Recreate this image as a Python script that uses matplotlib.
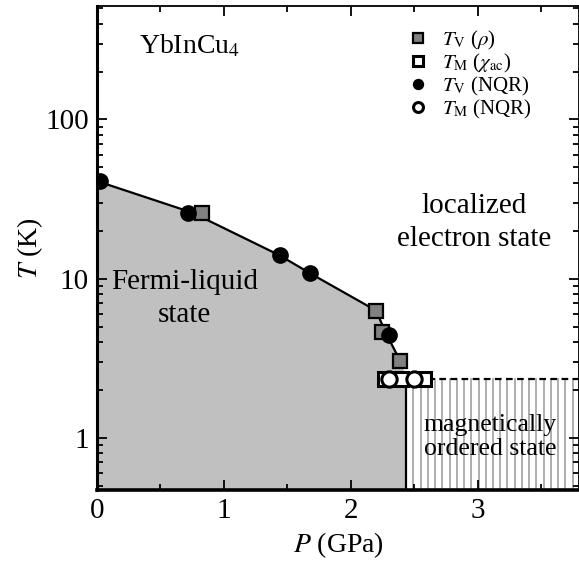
import numpy as np
import matplotlib
matplotlib.use("Agg")
import matplotlib.pyplot as plt

plt.rcParams["font.family"] = ["Liberation Serif", "DejaVu Serif"]
plt.rcParams["mathtext.fontset"] = "stix"

# T_V from resistivity (gray squares)
tv_rho_p = [0.83, 2.20, 2.25, 2.39]
tv_rho_t = [26.0, 6.3, 4.6, 3.05]
# T_M from chi_ac (open squares)
tm_chi_p = [2.27, 2.40, 2.58]
tm_chi_t = [2.35, 2.35, 2.35]
# T_V from NQR (filled circles)
tv_nqr_p = [0.02, 0.72, 1.44, 1.68, 2.30]
tv_nqr_t = [41.0, 25.8, 14.0, 10.8, 4.4]
# T_M from NQR (open circles)
tm_nqr_p = [2.30, 2.50]
tm_nqr_t = [2.35, 2.35]

# phase boundary (Fermi-liquid / localized) and ordered region
bound_p = [0.0, 0.75, 1.44, 1.68, 2.20, 2.28, 2.39, 2.44]
bound_t = [41.0, 26.0, 14.0, 10.8, 6.3, 4.5, 3.05, 2.35]
p_order = 2.44
t_order = 2.35

xmax = 3.8
ymin, ymax = 0.47, 515

fig = plt.figure(figsize=(5.79, 5.61), dpi=100)
ax = fig.add_axes([0.1675, 0.1266, 1.0 - 0.1675, 0.989 - 0.1266])

# Fermi-liquid region
ax.fill_between(bound_p, ymin, bound_t, color="#c0c0c0", lw=0, zorder=1)
ax.plot(bound_p[:-1], bound_t[:-1], color="black", lw=1.6, zorder=2)

# magnetically ordered region: vertical hatch
for xv in np.arange(p_order + 0.055, xmax, 0.057):
    ax.plot([xv, xv], [ymin, t_order], color="#a8a8a8", lw=1.3, zorder=1)
ax.plot([p_order, p_order], [ymin, t_order], color="black", lw=1.6, zorder=2)
ax.plot([p_order, xmax], [t_order, t_order], color="black", lw=1.6,
        ls=(0, (3, 2)), zorder=2)

ms_sq, ms_ci = 10, 11
ax.plot(tv_rho_p, tv_rho_t, "s", ms=ms_sq, mfc="#808080", mec="black", mew=1.6,
        zorder=4, label=r"$T_{\rm V}$ ($\rho$)")
ax.plot(tm_chi_p, tm_chi_t, "s", ms=ms_sq, mfc="white", mec="black", mew=2.2,
        zorder=4, label=r"$T_{\rm M}$ ($\chi_{\rm ac}$)")
ax.plot(tv_nqr_p, tv_nqr_t, "o", ms=ms_ci, mfc="black", mec="black",
        zorder=5, label=r"$T_{\rm V}$ (NQR)")
ax.plot(tm_nqr_p, tm_nqr_t, "o", ms=ms_ci, mfc="white", mec="black", mew=2.2,
        zorder=5, label=r"$T_{\rm M}$ (NQR)")

ax.set_yscale("log")
ax.set_xlim(0, xmax)
ax.set_ylim(ymin, ymax)
ax.set_xticks([0, 1, 2, 3])
ax.set_xticks([0.5, 1.5, 2.5, 3.5], minor=True)
ax.set_yticks([1, 10, 100])
ax.set_yticklabels(["1", "10", "100"])
ax.tick_params(which="both", direction="in", top=True, right=True,
               labelsize=21, width=1.3)
ax.tick_params(which="major", length=7, pad=6)
ax.tick_params(which="minor", length=4)
for side, w in [("left", 2.2), ("bottom", 2.6), ("top", 1.3), ("right", 1.3)]:
    ax.spines[side].set_linewidth(w)

ax.set_xlabel(r"$P$ (GPa)", fontsize=20, labelpad=4)
ax.set_ylabel(r"$T$ (K)", fontsize=20, labelpad=0)

ax.text(0.33, 290, r"YbInCu$_4$", fontsize=20, va="center", ha="left")
ax.text(2.97, 22.6, "localized\nelectron state", fontsize=21, ha="center",
        va="center", linespacing=1.35)
ax.text(0.69, 7.5, "Fermi-liquid\nstate", fontsize=21, ha="center",
        va="center", linespacing=1.35)
ax.text(3.10, 1.01, "magnetically\nordered state", fontsize=18.5, ha="center",
        va="center", linespacing=1.15)

leg = ax.legend(loc="upper left", bbox_to_anchor=(0.625, 0.975), frameon=False,
                fontsize=15, handlelength=0.85, handletextpad=0.75,
                labelspacing=0.0, borderpad=0, markerscale=0.65)

fig.savefig("out.png", dpi=100)
